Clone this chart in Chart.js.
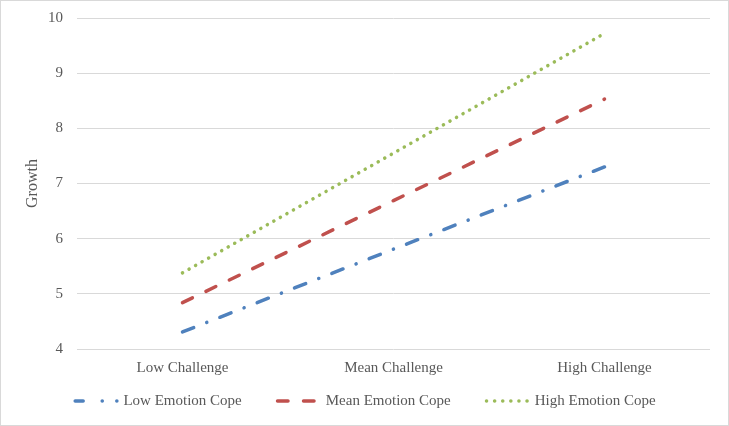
<!DOCTYPE html>
<html>
<head>
<meta charset="utf-8">
<script src="https://cdn.jsdelivr.net/npm/chart.js@4/dist/chart.umd.min.js"></script>
<style>
html,body{margin:0;padding:0;background:#fff;}
#wrap{width:729px;height:426px;box-sizing:border-box;border:1px solid #d9d9d9;position:relative;}
#c{display:block;}
</style>
</head>
<body>
<div id="wrap"><canvas id="c" width="727" height="424"></canvas></div>
<script>
const categories = ['Low Challenge', 'Mean Challenge', 'High Challenge'];
const lowEmotionCope = [4.31, 5.81, 7.30];
const meanEmotionCope = [4.84, 6.69, 8.53];
const highEmotionCope = [5.38, 7.55, 9.72];
const seriesNames = ['Low Emotion Cope', 'Mean Emotion Cope', 'High Emotion Cope'];
const yTicks = [4, 5, 6, 7, 8, 9, 10];

const FONT = "'Liberation Serif', 'DejaVu Serif', serif";
const TXT = '#595959';

// custom legend drawn under the plot, with the dashed line samples
const dashLegend = {
  id: 'dashLegend',
  afterDraw(chart) {
    const ctx = chart.ctx;
    const items = chart.data.datasets;
    const sampleW = 46, gap = 4, spacing = 34, y = 400;
    ctx.save();
    ctx.font = '15px ' + FONT;
    const widths = items.map(d => ctx.measureText(d.label).width);
    let total = 0;
    widths.forEach(w => total += sampleW + gap + w);
    total += spacing * (items.length - 1);
    let x = (chart.width - total) / 2;
    items.forEach((d, i) => {
      ctx.save();
      ctx.strokeStyle = d.borderColor;
      ctx.lineWidth = d.borderWidth;
      ctx.lineCap = 'round';
      ctx.setLineDash(d.legendDash);
      ctx.beginPath();
      ctx.moveTo(x + 1.75, y);
      ctx.lineTo(x + sampleW - 1.75, y);
      ctx.stroke();
      ctx.restore();
      ctx.fillStyle = TXT;
      ctx.textBaseline = 'middle';
      ctx.textAlign = 'left';
      ctx.fillText(d.label, x + sampleW + gap, y);
      x += sampleW + gap + widths[i] + spacing;
    });
    ctx.restore();
  }
};

new Chart(document.getElementById('c'), {
  type: 'line',
  data: {
    labels: categories,
    datasets: [
      {label: seriesNames[0], data: lowEmotionCope, borderColor: '#4f81bd', backgroundColor: '#4f81bd',
       borderWidth: 3.5, borderDash: [12, 14, 0.1, 14], legendDash: [8, 19, 0.1, 14.5, 0.1, 40],
       borderCapStyle: 'round', pointRadius: 0, fill: false, tension: 0},
      {label: seriesNames[1], data: meanEmotionCope, borderColor: '#c0504d', backgroundColor: '#c0504d',
       borderWidth: 3.5, borderDash: [11, 15], legendDash: [10.5, 15.5],
       borderCapStyle: 'round', pointRadius: 0, fill: false, tension: 0},
      {label: seriesNames[2], data: highEmotionCope, borderColor: '#9bbb59', backgroundColor: '#9bbb59',
       borderWidth: 3.5, borderDash: [0.1, 7.4], legendDash: [0.1, 8],
       borderCapStyle: 'round', pointRadius: 0, fill: false, tension: 0}
    ]
  },
  plugins: [dashLegend],
  options: {
    responsive: false,
    animation: false,
    layout: {padding: {left: 0, right: 18, top: 17, bottom: 0}},
    plugins: {
      tooltip: {enabled: false},
      legend: {display: false}
    },
    scales: {
      x: {
        offset: true,
        grid: {display: false},
        border: {display: false},
        ticks: {color: TXT, font: {family: FONT, size: 15}, padding: 2},
        afterFit: (axis) => { axis.height = 76; }
      },
      y: {
        min: 4, max: 10,
        afterBuildTicks: (axis) => { axis.ticks = yTicks.map(v => ({value: v})); },
        grid: {color: '#d9d9d9', lineWidth: 1, drawTicks: false},
        border: {display: false},
        ticks: {color: TXT, font: {family: FONT, size: 15}, padding: 14},
        title: {display: true, text: 'Growth', color: TXT, font: {family: FONT, size: 16}, padding: {top: 22, bottom: 0}},
        afterFit: (axis) => { axis.width = 76; axis.paddingTop = 0; axis.paddingBottom = 0; }
      }
    }
  }
});
</script>
</body>
</html>
